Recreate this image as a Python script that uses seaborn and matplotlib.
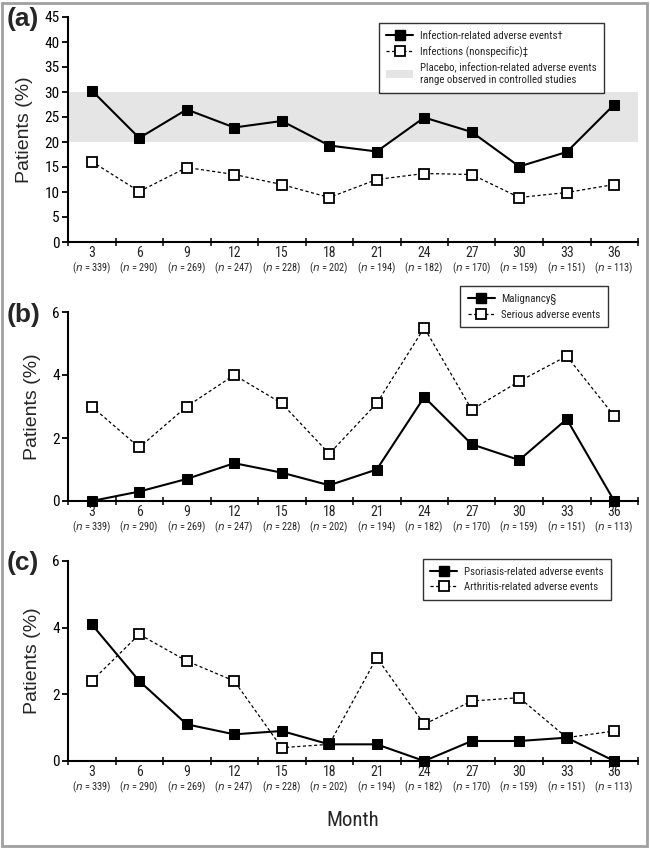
import matplotlib
matplotlib.use('Agg')
import matplotlib.pyplot as plt
import matplotlib.patches as mpatches
from matplotlib import font_manager
from matplotlib.lines import Line2D
import numpy as np
import pandas as pd
import seaborn as sns

# data
months = [3, 6, 9, 12, 15, 18, 21, 24, 27, 30, 33, 36]
n_patients = [339, 290, 269, 247, 228, 202, 194, 182, 170, 159, 151, 113]

infection_ae = [30.3, 20.8, 26.5, 22.9, 24.2, 19.3, 18.1, 24.9, 22.0, 15.1, 18.0, 27.5]
infections_nonspec = [16.1, 10.1, 14.9, 13.5, 11.5, 8.9, 12.5, 13.7, 13.5, 8.9, 9.9, 11.5]
placebo_range = [20, 30]

malignancy = [0.0, 0.3, 0.7, 1.2, 0.9, 0.5, 1.0, 3.3, 1.8, 1.3, 2.6, 0.0]
serious_ae = [3.0, 1.7, 3.0, 4.0, 3.1, 1.5, 3.1, 5.5, 2.9, 3.8, 4.6, 2.7]

psoriasis_ae = [4.1, 2.4, 1.1, 0.8, 0.9, 0.5, 0.5, 0.0, 0.6, 0.6, 0.7, 0.0]
arthritis_ae = [2.4, 3.8, 3.0, 2.4, 0.4, 0.5, 3.1, 1.1, 1.8, 1.9, 0.7, 0.9]

sns.set_style('white')

# 找一个窄体字体，没有就用普通的
installed = {f.name for f in font_manager.fontManager.ttflist}
narrow_name = None
for cand in ['Liberation Sans Narrow', 'Arial Narrow', 'Nimbus Sans Narrow',
             'Roboto Condensed', 'DejaVu Sans Condensed', 'Open Sans Condensed']:
    if cand in installed:
        narrow_name = cand
        break
STRETCH = 'normal'
if narrow_name is None:
    if any(f.name == 'DejaVu Sans' and f.stretch == 'condensed'
           for f in font_manager.fontManager.ttflist):
        narrow_name = 'DejaVu Sans'
        STRETCH = 'condensed'
HAVE_NARROW = narrow_name is not None
NARROW = [narrow_name, 'Liberation Sans', 'DejaVu Sans'] if HAVE_NARROW else ['Liberation Sans', 'DejaVu Sans']
WIDE = ['Liberation Sans', 'DejaVu Sans']
plt.rcParams['font.family'] = NARROW
plt.rcParams['font.stretch'] = STRETCH

TICK_FS = 10 if HAVE_NARROW else 9.5
N_FS = 7.5 if HAVE_NARROW else 6.4
LEG_FS = 7.8 if HAVE_NARROW else 7

W, H = 650, 849
fig = plt.figure(figsize=(W / 100, H / 100), dpi=100)


def ax_rect(top_px, bottom_px, left_px=68, right_px=638):
    return [left_px / W, 1 - bottom_px / H, (right_px - left_px) / W, (bottom_px - top_px) / H]


solid_kw = dict(color='black', linewidth=1.5, linestyle='-', marker='s',
                markersize=7.5, markerfacecolor='black', markeredgecolor='black')
dash_kw = dict(color='black', linewidth=0.9, linestyle=(0, (2.5, 2)), marker='s',
               markersize=7.5, markerfacecolor='white', markeredgecolor='black',
               markeredgewidth=1.3)


def style_axis(ax, ymax, ystep):
    ax.set_xlim(1.5, 37.5)
    ax.set_ylim(0, ymax)
    ax.set_yticks(np.arange(0, ymax + 0.01, ystep))
    for s in ['top', 'right']:
        ax.spines[s].set_visible(False)
    for s in ['left', 'bottom']:
        ax.spines[s].set_linewidth(1.5)
        ax.spines[s].set_color('black')
    ax.tick_params(axis='y', direction='out', length=4, width=1.3, pad=2,
                   labelsize=11, colors='black', left=True)
    ax.set_xticks(months)
    ax.set_xticklabels([str(m) for m in months], fontsize=TICK_FS)
    ax.tick_params(axis='x', which='major', length=0, pad=3)
    ax.set_xticks([m + 1.5 for m in months] + [1.5], minor=True)
    ax.tick_params(axis='x', which='minor', direction='inout', length=6, width=1.3,
                   bottom=True)
    # n 标注放在刻度数字下面
    trans = ax.get_xaxis_transform()
    off = 26.5 / ax.get_window_extent().height
    for m, n in zip(months, n_patients):
        ax.text(m, -off, f'($n$ = {n})', transform=trans, ha='center', va='center',
                fontsize=N_FS)
    ax.set_ylabel('Patients (%)', fontsize=14, family=WIDE, fontstretch='normal', labelpad=8)
    ax.set_xlabel('')
    ax.grid(False)


def legend_box(ax, handles, labels, anchor):
    leg = ax.legend(handles, labels, loc='upper right', bbox_to_anchor=anchor,
                    bbox_transform=fig.transFigure, frameon=True, fancybox=False,
                    edgecolor='black', fontsize=LEG_FS, handlelength=2.5,
                    handletextpad=0.6, borderpad=0.7, labelspacing=0.5,
                    borderaxespad=0)
    leg.get_frame().set_linewidth(1.0)
    return leg


# panel (a)
ax_a = fig.add_axes(ax_rect(17, 242))
ax_a.axhspan(placebo_range[0], placebo_range[1], color='#e5e5e5', zorder=0, linewidth=0)
df_a = pd.DataFrame({'month': months, 'ae': infection_ae, 'inf': infections_nonspec})
sns.lineplot(data=df_a, x='month', y='inf', ax=ax_a, **dash_kw)
sns.lineplot(data=df_a, x='month', y='ae', ax=ax_a, **solid_kw)
style_axis(ax_a, 45, 5)
legend_box(ax_a,
           [Line2D([], [], **solid_kw), Line2D([], [], **dash_kw),
            mpatches.Patch(facecolor='#e5e5e5', edgecolor='none')],
           ['Infection-related adverse events\u2020', 'Infections (nonspecific)\u2021',
            'Placebo, infection-related adverse events\nrange observed in controlled studies'],
           (604 / W, 1 - 23 / H))

# panel (b)
ax_b = fig.add_axes(ax_rect(312, 501))
df_b = pd.DataFrame({'month': months, 'mal': malignancy, 'sae': serious_ae})
sns.lineplot(data=df_b, x='month', y='sae', ax=ax_b, **dash_kw)
sns.lineplot(data=df_b, x='month', y='mal', ax=ax_b, **solid_kw)
style_axis(ax_b, 6, 2)
legend_box(ax_b, [Line2D([], [], **solid_kw), Line2D([], [], **dash_kw)],
           ['Malignancy\u00a7', 'Serious adverse events'], (608 / W, 1 - 286 / H))

# panel (c)
ax_c = fig.add_axes(ax_rect(561, 761))
df_c = pd.DataFrame({'month': months, 'pso': psoriasis_ae, 'art': arthritis_ae})
sns.lineplot(data=df_c, x='month', y='art', ax=ax_c, **dash_kw)
sns.lineplot(data=df_c, x='month', y='pso', ax=ax_c, **solid_kw)
style_axis(ax_c, 6, 2)
legend_box(ax_c, [Line2D([], [], **solid_kw), Line2D([], [], **dash_kw)],
           ['Psoriasis-related adverse events', 'Arthritis-related adverse events'],
           (611 / W, 1 - 559 / H))

for ax in (ax_a, ax_b, ax_c):
    for ln in ax.lines:
        ln.set_clip_on(False)

# panel letters
for lbl, ypx in [('(a)', 19), ('(b)', 315), ('(c)', 563)]:
    fig.text(7 / W, 1 - ypx / H, lbl, fontsize=19, fontweight='bold', family=WIDE,
             fontstretch='normal', ha='left', va='center')

fig.text(353 / W, 1 - 820 / H, 'Month', fontsize=15, ha='center', va='center')

# outer gray frame
fig.patches.append(mpatches.Rectangle((2 / W, 3 / H), 645 / W, 843 / H, transform=fig.transFigure,
                                      fill=False, edgecolor='#a0a0a0', linewidth=2))

fig.savefig('out.png', dpi=100)
